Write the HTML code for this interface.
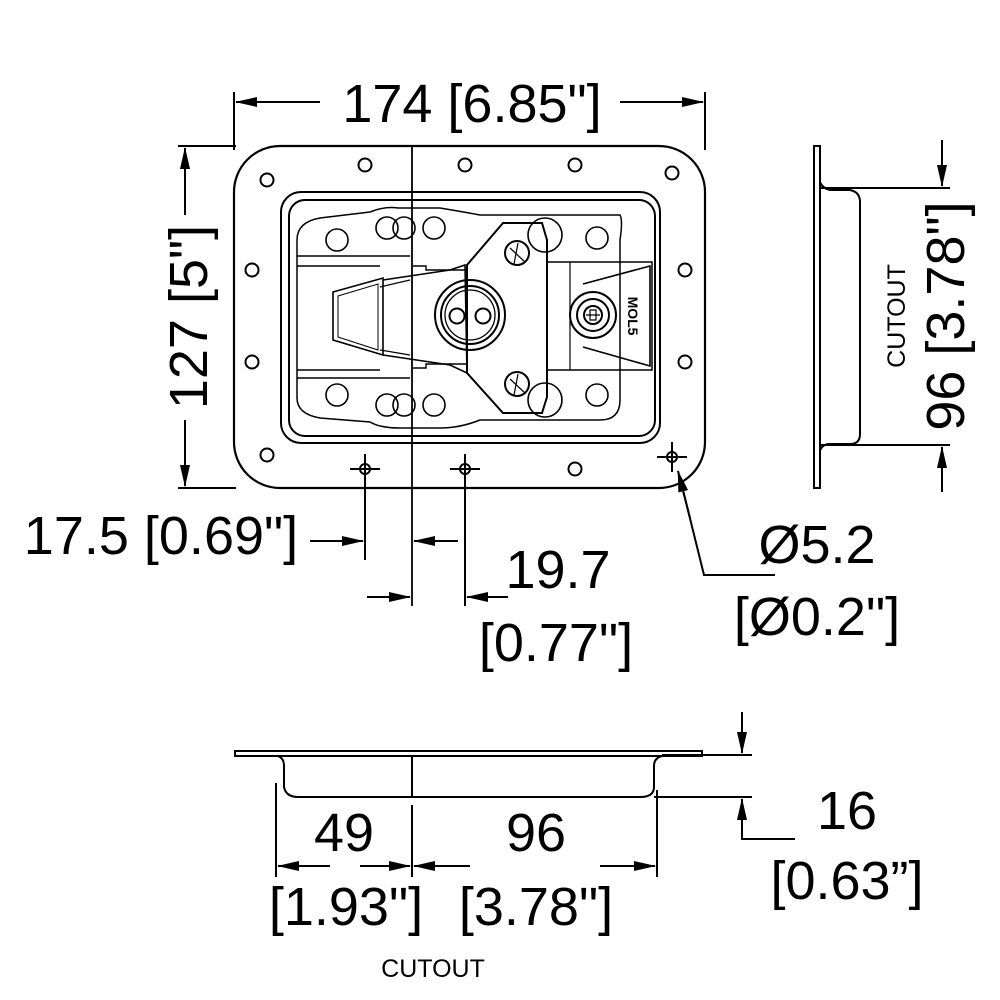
<!DOCTYPE html>
<html><head><meta charset="utf-8"><style>
html,body{margin:0;padding:0;background:#fff}
svg{display:block}
text{font-family:"Liberation Sans",Arial,sans-serif;fill:#000}
</style></head><body>
<svg width="1000" height="1000" viewBox="0 0 1000 1000" xmlns="http://www.w3.org/2000/svg">
<defs>
<marker id="a" markerWidth="22" markerHeight="10" refX="21" refY="5" orient="auto" markerUnits="userSpaceOnUse"><path d="M0,0 L22,5 L0,10 Z" fill="#000"/></marker>
</defs>
<g fill="none" stroke="#000" stroke-width="2">
<line x1="234" y1="92" x2="234" y2="150"/>
<line x1="705" y1="92" x2="705" y2="150"/>
<line x1="320" y1="102" x2="236" y2="102" marker-end="url(#a)"/>
<line x1="620" y1="102" x2="703" y2="102" marker-end="url(#a)"/>
<line x1="178" y1="146" x2="236" y2="146"/>
<line x1="178" y1="488" x2="236" y2="488"/>
<line x1="185" y1="215" x2="185" y2="148" marker-end="url(#a)"/>
<line x1="185" y1="420" x2="185" y2="486" marker-end="url(#a)"/>
<rect x="234" y="146" width="471" height="342" rx="46" stroke-width="2.2"/>
<rect x="281" y="192" width="379" height="251" rx="20"/>
<rect x="289" y="200" width="366" height="236" rx="16"/>
<path d="M297,240 Q297,222 320,218 L370,212 Q385,206 398,208 L440,208 Q470,213 480,215 L620,215 Q623,220 620,240 L620,400 Q620,420 600,420 L480,420 Q460,428 440,428 L400,428 Q380,428 370,422 L320,418 Q297,414 297,398 Z" stroke-width="1.5"/>
<line x1="297" y1="256" x2="410" y2="256" stroke-width="1.5"/>
<line x1="297" y1="266" x2="380" y2="266" stroke-width="1.5"/>
<line x1="297" y1="370" x2="380" y2="370" stroke-width="1.5"/>
<line x1="297" y1="378" x2="410" y2="378" stroke-width="1.5"/>
<g stroke-width="2">
<circle cx="267" cy="180" r="6.5"/><circle cx="365" cy="165" r="6.5"/><circle cx="465" cy="165" r="6.5"/><circle cx="575" cy="165" r="6.5"/><circle cx="672" cy="173" r="6.5"/>
<circle cx="252" cy="270" r="6.5"/><circle cx="252" cy="362" r="6.5"/><circle cx="685" cy="270" r="6.5"/><circle cx="685" cy="362" r="6.5"/>
<circle cx="267" cy="455" r="6.5"/><circle cx="575" cy="469" r="6.5"/>
</g>
<g stroke-width="1.6">
<circle cx="337" cy="240" r="11"/><circle cx="387" cy="228" r="11"/><circle cx="434" cy="228" r="11"/><circle cx="597" cy="238" r="11"/>
<circle cx="337" cy="395" r="11"/><circle cx="387" cy="405" r="11"/><circle cx="434" cy="405" r="11"/><circle cx="597" cy="395" r="11"/>
<circle cx="404" cy="228" r="11"/><circle cx="404" cy="405" r="11"/>
<circle cx="545" cy="235" r="17"/><circle cx="545" cy="400" r="17"/>
</g>
<path d="M333,292 L383,278 L383,355 L333,340 Z" stroke-width="1.6"/>
<path d="M338,296 L378,284 L378,350 L338,337 Z" stroke-width="1"/>
<path d="M383,280 L450,270 L465,265 L467,373 L450,365 L383,355" stroke-width="1.6"/>
<line x1="380" y1="287" x2="410" y2="280" stroke-width="1.2"/>
<line x1="380" y1="350" x2="410" y2="355" stroke-width="1.2"/>
<path d="M413,266 L426,266 L426,270 L467,270 M413,368 L426,368 L426,364 L467,364" stroke-width="1.4"/>
<path d="M467,265 L503,223 L542,223 L547,240 L547,397 L542,413 L503,413 L467,373 Z" stroke-width="2"/>
<circle cx="517" cy="253" r="12"/><circle cx="517" cy="384" r="12"/>
<path d="M510,248 L525,262 M518,243 L514,264" stroke-width="1.2"/>
<path d="M510,379 L525,393 M518,374 L514,395" stroke-width="1.2"/>
<circle cx="470" cy="315" r="35"/><circle cx="470" cy="315" r="29"/><circle cx="470" cy="315" r="25" stroke-width="1.3"/>
<circle cx="457" cy="316" r="7.5"/><circle cx="483" cy="316" r="7.5"/>
<rect x="547" y="262" width="105" height="108" stroke-width="1.5"/>
<line x1="570" y1="262" x2="570" y2="370" stroke-width="1.2"/>
<path d="M583,284 L650,266 L650,366 L583,347" stroke-width="1.6"/>
<circle cx="593" cy="315" r="23"/><circle cx="593" cy="315" r="16"/><circle cx="593" cy="315" r="9"/>
<path d="M590,310 L596,310 L596,320 L590,320 Z M586,315 L600,315" stroke-width="1.2"/>
<g stroke-width="2">
<circle cx="365" cy="469" r="5"/><line x1="350" y1="469" x2="380" y2="469"/><line x1="365" y1="454" x2="365" y2="560"/>
<circle cx="465" cy="469" r="5"/><line x1="450" y1="469" x2="480" y2="469"/><line x1="465" y1="454" x2="465" y2="606"/>
<circle cx="672" cy="457" r="5"/><line x1="657" y1="457" x2="687" y2="457"/><line x1="672" y1="442" x2="672" y2="472"/>
</g>
<line x1="412" y1="146" x2="412" y2="606" stroke-width="1.8"/>
<line x1="310" y1="541" x2="363" y2="541" marker-end="url(#a)"/>
<line x1="458" y1="541" x2="414" y2="541" marker-end="url(#a)"/>
<line x1="367" y1="597" x2="410" y2="597" marker-end="url(#a)"/>
<line x1="508" y1="597" x2="467" y2="597" marker-end="url(#a)"/>
<polyline points="775,575 704,575 680,478" fill="none"/>
<line x1="690" y1="518" x2="678" y2="471" marker-end="url(#a)"/>
<rect x="814" y="146" width="6" height="342" stroke-width="2"/>
<path d="M820,182 Q822,188 830,190 L850,190 Q860,192 860,202 L860,434 Q860,444 850,444 L830,444 Q822,444 820,451" stroke-width="2"/>
<line x1="820" y1="188" x2="950" y2="188"/>
<line x1="820" y1="445" x2="950" y2="445"/>
<line x1="942" y1="140" x2="942" y2="186" marker-end="url(#a)"/>
<line x1="942" y1="492" x2="942" y2="447" marker-end="url(#a)"/>
<rect x="235" y="751" width="467" height="5" stroke-width="2"/>
<path d="M278,756 Q284,758 284,766 L284,787 Q286,797 298,797 L640,797 Q654,797 654,787 L654,766 Q654,758 662,756" stroke-width="2"/>
<line x1="412" y1="756" x2="412" y2="797"/>
<line x1="412" y1="805" x2="412" y2="877"/>
<line x1="276" y1="783" x2="276" y2="877"/>
<line x1="657" y1="790" x2="657" y2="877"/>
<line x1="330" y1="866" x2="278" y2="866" marker-end="url(#a)"/>
<line x1="360" y1="866" x2="410" y2="866" marker-end="url(#a)"/>
<line x1="470" y1="866" x2="414" y2="866" marker-end="url(#a)"/>
<line x1="600" y1="866" x2="655" y2="866" marker-end="url(#a)"/>
<line x1="662" y1="755" x2="752" y2="755"/>
<line x1="654" y1="797" x2="752" y2="797"/>
<line x1="742" y1="712" x2="742" y2="753" marker-end="url(#a)"/>
<polyline points="795,839 742,839 742,800" fill="none"/>
<line x1="742" y1="830" x2="742" y2="799" marker-end="url(#a)"/>
</g>
<text x="472" y="122" font-size="54" text-anchor="middle">174 [6.85"]</text>
<text transform="translate(207,317) rotate(-90)" font-size="54" text-anchor="middle">127 [5"]</text>
<text x="161" y="554" font-size="54" text-anchor="middle">17.5 [0.69"]</text>
<text x="558" y="588" font-size="54" text-anchor="middle">19.7</text>
<text x="556" y="661" font-size="54" text-anchor="middle">[0.77"]</text>
<text x="817" y="563" font-size="54" text-anchor="middle">Ø5.2</text>
<text x="817" y="635" font-size="54" text-anchor="middle">[Ø0.2"]</text>
<text transform="translate(964,316) rotate(-90)" font-size="54" text-anchor="middle">96 [3.78"]</text>
<text transform="translate(905,316) rotate(-90)" font-size="25" text-anchor="middle">CUTOUT</text>
<text x="344" y="851" font-size="54" text-anchor="middle">49</text>
<text x="536" y="851" font-size="54" text-anchor="middle">96</text>
<text x="346" y="925" font-size="54" text-anchor="middle">[1.93"]</text>
<text x="536" y="925" font-size="54" text-anchor="middle">[3.78"]</text>
<text x="433" y="977" font-size="25" text-anchor="middle">CUTOUT</text>
<text x="847" y="829" font-size="54" text-anchor="middle">16</text>
<text x="847" y="899" font-size="54" text-anchor="middle">[0.63”]</text>
<text transform="translate(628,316) rotate(90)" font-size="14" font-weight="bold" text-anchor="middle">MOL5</text>
</svg>
</body></html>
